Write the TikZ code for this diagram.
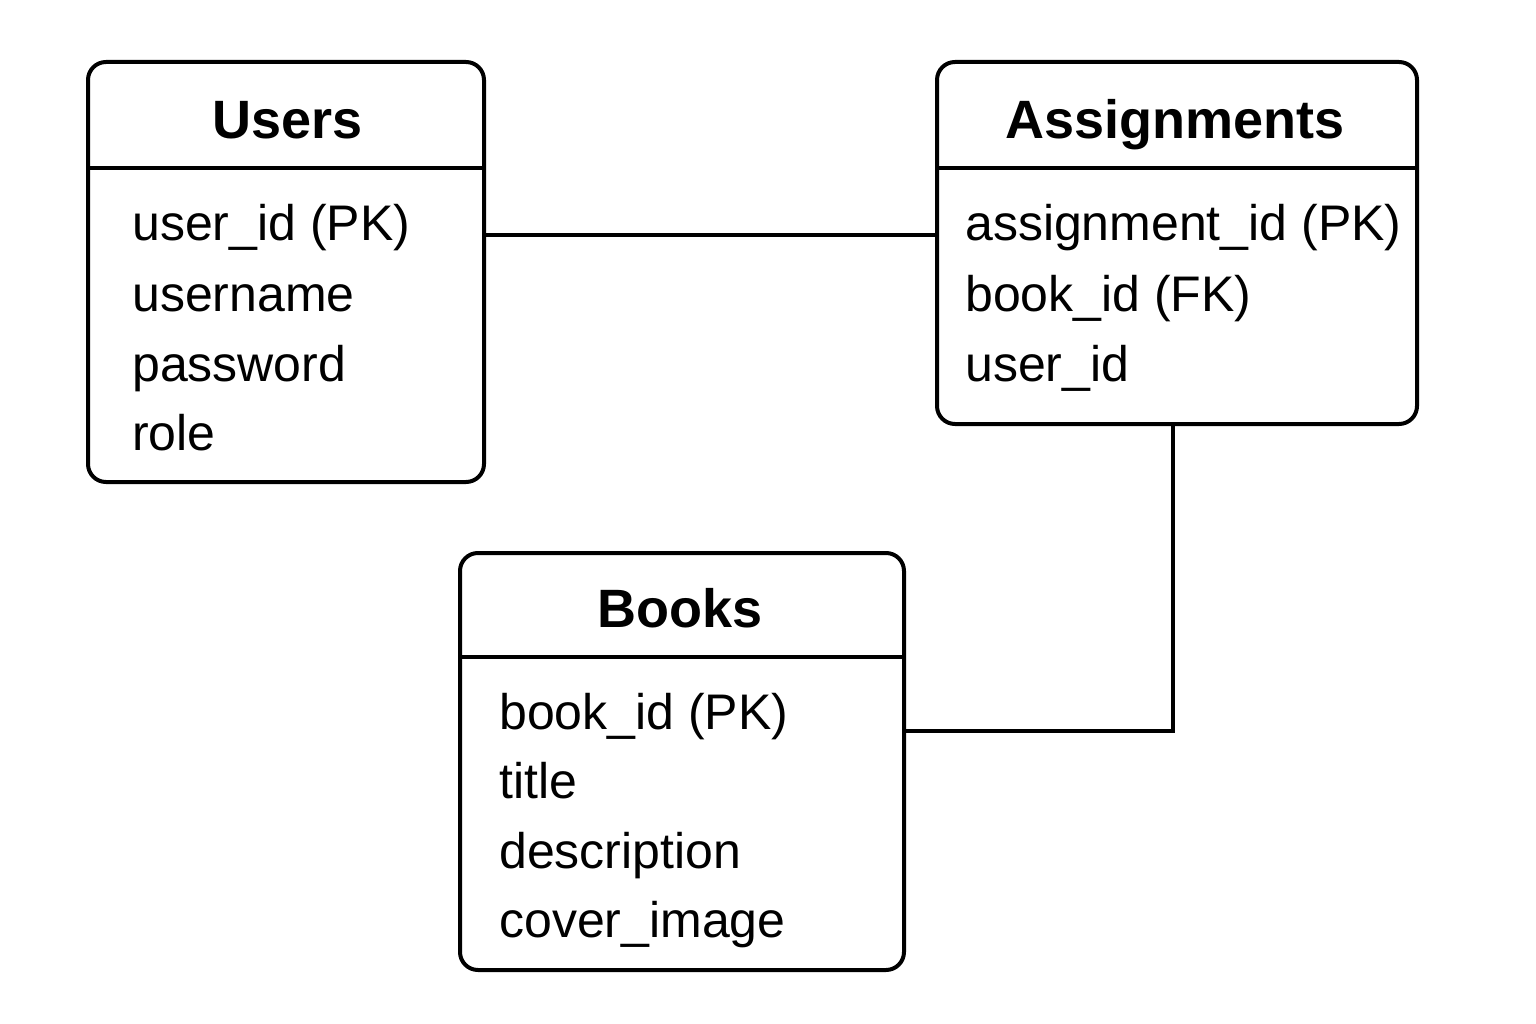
\documentclass[tikz,border=0pt]{standalone}
\usepackage{fontspec}
\setmainfont{Liberation Sans}
\begin{document}
\begin{tikzpicture}[x=1pt,y=-1pt,
  tbl/.style={draw=black, line width=4pt, rounded corners=18pt, inner sep=0pt, fill=none},
  ttl/.style={anchor=base, inner sep=0pt, font=\fontsize{54}{60}\selectfont\bfseries},
  fld/.style={anchor=base west, inner sep=0pt, font=\fontsize{50}{58}\selectfont},
  sep/.style={line width=4pt},
  conn/.style={line width=4pt}]
\useasboundingbox[fill=white] (0,0) rectangle (1536,1024);
% Users
\node[tbl, minimum width=396pt, minimum height=420pt] (users) at (286,272) {};
\draw[sep] ([yshift=-108pt]users.north west) -- ([yshift=-108pt]users.north east);
\node[ttl] (usersT) at (288,139) {Users};
\node[fld] (u1) at (132,241) {user\_id (PK)};
\node[fld] (u2) at (132,311) {username};
\node[fld] (u3) at (132,381) {password};
\node[fld] (u4) at (132,450) {role};
% Assignments
\node[tbl, minimum width=480pt, minimum height=362pt] (assign) at (1177,243) {};
\draw[sep] ([yshift=-108pt]assign.north west) -- ([yshift=-108pt]assign.north east);
\node[ttl] (assignT) at (1175,139) {Assignments};
\node[fld] (a1) at (965,241) {assignment\_id (PK)};
\node[fld] (a2) at (965,311) {book\_id (FK)};
\node[fld] (a3) at (965,381) {user\_id};
% Books
\node[tbl, minimum width=444pt, minimum height=417pt] (books) at (682,761.5) {};
\draw[sep] ([yshift=-106pt]books.north west) -- ([yshift=-106pt]books.north east);
\node[ttl] (booksT) at (680,627) {Books};
\node[fld] (b1) at (499,729) {book\_id (PK)};
\node[fld] (b2) at (499,798) {title};
\node[fld] (b3) at (499,868) {description};
\node[fld] (b4) at (499,937) {cover\_image};
% connectors
\draw[conn] ([yshift=-175pt]users.north east) -- ([yshift=-175pt]assign.north west);
\draw[conn] ([xshift=-4pt]assign.south) |- ([yshift=-180pt]books.north east);
\end{tikzpicture}
\end{document}
